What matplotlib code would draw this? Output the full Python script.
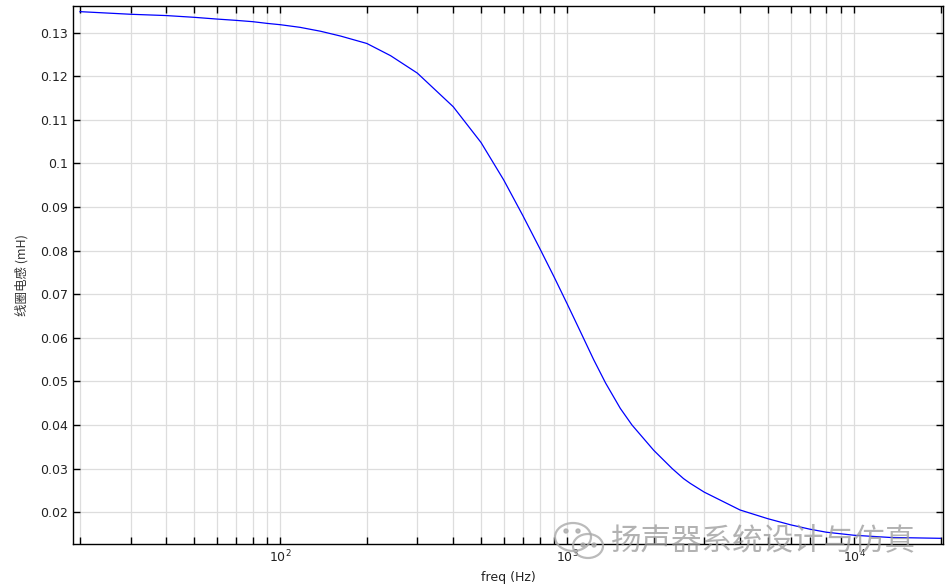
import numpy as np
import matplotlib
matplotlib.use("Agg")
import matplotlib.pyplot as plt
from matplotlib.ticker import LogLocator, FixedLocator
from matplotlib.patches import Ellipse

plt.rcParams['font.family'] = ['DejaVu Sans', 'Noto Sans CJK SC']

# frequency (Hz) and coil inductance (mH)
freq = [20, 30, 40, 50, 60, 70, 80, 90, 100, 117, 138, 162, 200, 242, 300,
        400, 500, 600, 700, 800, 900, 1000, 1109, 1235, 1360, 1530, 1680,
        2000, 2320, 2541, 2683, 3000, 4000, 5000, 6000, 7000, 8000, 10000,
        13330, 20000]
induct = [0.1348, 0.1342, 0.1339, 0.1335, 0.1331, 0.1328, 0.1325, 0.1321,
          0.1318, 0.1312, 0.1303, 0.1292, 0.1275, 0.1247, 0.1207, 0.1130,
          0.1048, 0.0962, 0.0880, 0.0806, 0.0739, 0.0677, 0.0615, 0.0550,
          0.0496, 0.0438, 0.0400, 0.0342, 0.0300, 0.0277, 0.0266, 0.0246,
          0.0205, 0.0185, 0.0171, 0.0161, 0.0154, 0.0147, 0.0142, 0.0140]
y_ticks = [0.02, 0.03, 0.04, 0.05, 0.06, 0.07, 0.08, 0.09, 0.1, 0.11, 0.12, 0.13]

fig = plt.figure(figsize=(9.5, 5.86), dpi=100)
ax = fig.add_axes([0.0768, 0.0717, 0.9158, 0.9181])

ax.plot(freq, induct, color='blue', linewidth=0.9)

ax.set_xscale('log')
ax.set_xlim(18.9, 20400)
ax.set_ylim(0.0127, 0.1361)
ax.yaxis.set_major_locator(FixedLocator(y_ticks))
ax.set_yticklabels([f"{v:g}" for v in y_ticks])
ax.xaxis.set_major_locator(LogLocator(base=10))
ax.xaxis.set_minor_locator(LogLocator(base=10, subs=np.arange(2, 10)))

ax.grid(True, which='major', color='#dddddd', linewidth=0.9)
ax.grid(True, which='minor', axis='x', color='#dddddd', linewidth=0.9)
ax.set_axisbelow(True)

ax.tick_params(which='both', direction='in', top=True, right=True,
               labelsize=9, color='black', width=1, labelcolor='#222222')
ax.tick_params(which='both', length=5)
for s in ax.spines.values():
    s.set_linewidth(1)
    s.set_color('black')

ax.set_xlabel("freq (Hz)", fontsize=9, labelpad=4, color='#222222')
ax.set_ylabel("线圈电感 (mH)", fontsize=9, labelpad=8,
              family=['Noto Sans CJK SC', 'DejaVu Sans'], color='#333333')

# watermark: chat icon + account name
W, H = 950, 586
wm = '#aaaaaa'
for cx, cy, w, h in [(573, 537, 36, 28), (588, 546, 30, 24)]:
    fig.add_artist(Ellipse((cx / W, 1 - cy / H), w / W, h / H,
                           transform=fig.transFigure, fill=False,
                           edgecolor=wm, linewidth=1.6, alpha=0.8))
for dx, dy in [(566, 531), (578, 531), (583, 545), (594, 545)]:
    fig.add_artist(Ellipse((dx / W, 1 - dy / H), 4 / W, 4 / H,
                           transform=fig.transFigure, color=wm, alpha=0.8))
fig.text(0.643, 0.078, "扬声器系统设计与仿真", fontsize=22, color='#999999',
         alpha=0.75, family=['Noto Sans CJK SC', 'DejaVu Sans'],
         ha='left', va='center')

fig.savefig("out.png", dpi=100)
